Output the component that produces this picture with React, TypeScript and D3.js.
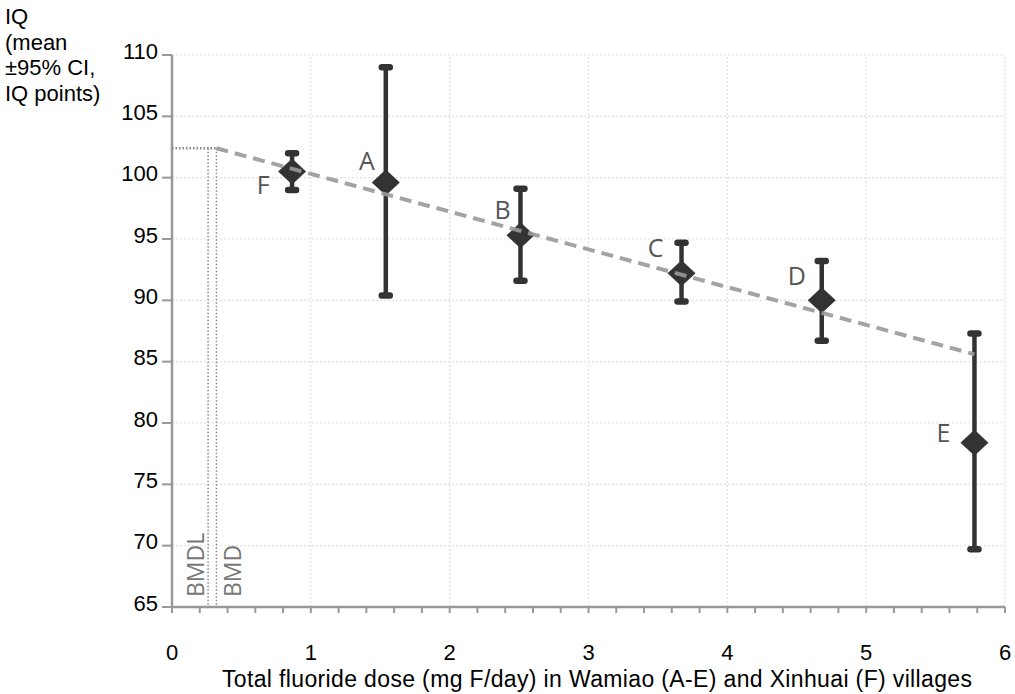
import React from 'react';
import {scaleLinear, line, range} from 'd3';

// villages, dose (mg F/day), mean IQ and 95% CI
const villages = ['F', 'A', 'B', 'C', 'D', 'E'];
const doses = [0.865, 1.54, 2.51, 3.67, 4.68, 5.78];
const means = [100.5, 99.6, 95.3, 92.2, 90.0, 78.4];
const ciLow = [99.0, 90.4, 91.6, 89.9, 86.7, 69.7];
const ciHigh = [102.0, 109.0, 99.1, 94.7, 93.2, 87.3];

// dose-response line and benchmark doses
const fitX = [0.32, 5.78];
const fitY = [102.4, 85.6];
const bmdl = 0.26;
const bmd = 0.32;

const yTicks = [65, 70, 75, 80, 85, 90, 95, 100, 105, 110];
const xTicks = [0, 1, 2, 3, 4, 5, 6];
const titleLines = ['IQ', '(mean', '±95% CI,', 'IQ points)'];

const W = 1015, H = 694;
const margin = {t: 55, r: 10, b: 87, l: 172};

const sx = scaleLinear().domain([0, 6]).range([margin.l, 1005]);
const sy = scaleLinear().domain([65, 110]).range([H - margin.b, margin.t]);

const fitLine = line<number>()
	.x((d, i) => sx(fitX[i]))
	.y((d, i) => sy(fitY[i]));

// where to put the letters, relative to each diamond
const labelOffset = [[-29, 13], [-19, -22], [-18, -25], [-26, -25], [-25, -24], [-31, -10]];

const axisCol = '#999';
const markCol = '#333';
const labelFont = '"Liberation Sans", Arial, sans-serif';

export default function App() {
	const minor = range(0, 6.001, 0.2);
	return (
		<svg width={W} height={H} style={{position: 'absolute', left: 0, top: 0, background: '#fff'}}>
			{/* grid */}
			<g stroke='#e2e2e2' strokeWidth={1.2} strokeDasharray='2 2'>
				{yTicks.slice(1).map(t =>
					<line key={'gy' + t} x1={sx(0)} x2={sx(6)} y1={sy(t)} y2={sy(t)} />
				)}
				{xTicks.slice(1).map(t =>
					<line key={'gx' + t} x1={sx(t)} x2={sx(t)} y1={sy(65)} y2={sy(110)} />
				)}
			</g>

			{/* axes */}
			<g stroke={axisCol} strokeWidth={2.5}>
				<line x1={sx(0)} x2={sx(0)} y1={sy(110)} y2={sy(65)} />
				<line x1={sx(0)} x2={sx(6)} y1={sy(65)} y2={sy(65)} />
				{yTicks.map(t =>
					<line key={'ty' + t} x1={sx(0) - 10} x2={sx(0)} y1={sy(t)} y2={sy(t)} strokeWidth={2} />
				)}
				{minor.map((t, i) =>
					<line key={'tx' + i} x1={sx(t)} x2={sx(t)} y1={sy(65)} y2={sy(65) + 6} strokeWidth={2} />
				)}
			</g>
			<g fontFamily={labelFont} fontSize={22} fill='#000'>
				{yTicks.map(t =>
					<text key={'ly' + t} x={sx(0) - 14} y={sy(t) - 4} dy='0.35em' textAnchor='end'>{t}</text>
				)}
				{xTicks.map(t =>
					<text key={'lx' + t} x={sx(t)} y={660} textAnchor='middle'>{t}</text>
				)}
				<text x={222} y={687} fontSize={23} textLength={750} lengthAdjust='spacing'>
					Total fluoride dose (mg F/day) in Wamiao (A-E) and Xinhuai (F) villages
				</text>
				{titleLines.map((s, i) =>
					<text key={'t' + i} x={5} y={24 + i * 25.5}>{s}</text>
				)}
			</g>

			{/* BMD / BMDL */}
			<g stroke='#888' strokeWidth={1.5} strokeDasharray='1.5 2' fill='none'>
				<line x1={sx(0)} x2={sx(bmd)} y1={sy(fitY[0])} y2={sy(fitY[0])} strokeWidth={2.5} />
				<line x1={sx(bmdl)} x2={sx(bmdl)} y1={sy(fitY[0])} y2={sy(65)} />
				<line x1={sx(bmd)} x2={sx(bmd)} y1={sy(fitY[0])} y2={sy(65)} />
			</g>
			<g fontFamily='"Open Sans", sans-serif' fontSize={23} fill='#777'>
				<text transform={`translate(${sx(bmdl) - 4},${sy(65) - 10}) rotate(-90)`}>BMDL</text>
				<text transform={`translate(${sx(bmd) + 25},${sy(65) - 10}) rotate(-90)`}>BMD</text>
			</g>

			{/* error bars and diamonds */}
			{villages.map((v, i) => {
				const x = sx(doses[i]);
				const cy = sy(means[i]);
				const rx = 14, ry = 13;
				return (
					<g key={v}>
						<line x1={x} x2={x} y1={sy(ciLow[i])} y2={sy(ciHigh[i])} stroke={markCol} strokeWidth={4.5} />
						<line x1={x - 4} x2={x + 4} y1={sy(ciLow[i])} y2={sy(ciLow[i])} stroke={markCol} strokeWidth={6.5} strokeLinecap='round' />
						<line x1={x - 4} x2={x + 4} y1={sy(ciHigh[i])} y2={sy(ciHigh[i])} stroke={markCol} strokeWidth={6.5} strokeLinecap='round' />
						<path d={`M${x},${cy - ry}L${x + rx},${cy}L${x},${cy + ry}L${x - rx},${cy}Z`} fill={markCol} />
						<text x={x + labelOffset[i][0]} y={cy + labelOffset[i][1]} dy='0.36em' textAnchor='middle'
							fontFamily='"Open Sans", sans-serif' fontSize={25} fill='#555'>{v}</text>
					</g>
				);
			})}

			{/* dashed dose-response line, on top */}
			<path d={fitLine(fitX) || ''} fill='none' stroke='#999' strokeWidth={4} strokeDasharray='12 7' opacity={0.9} />
		</svg>
	);
}
